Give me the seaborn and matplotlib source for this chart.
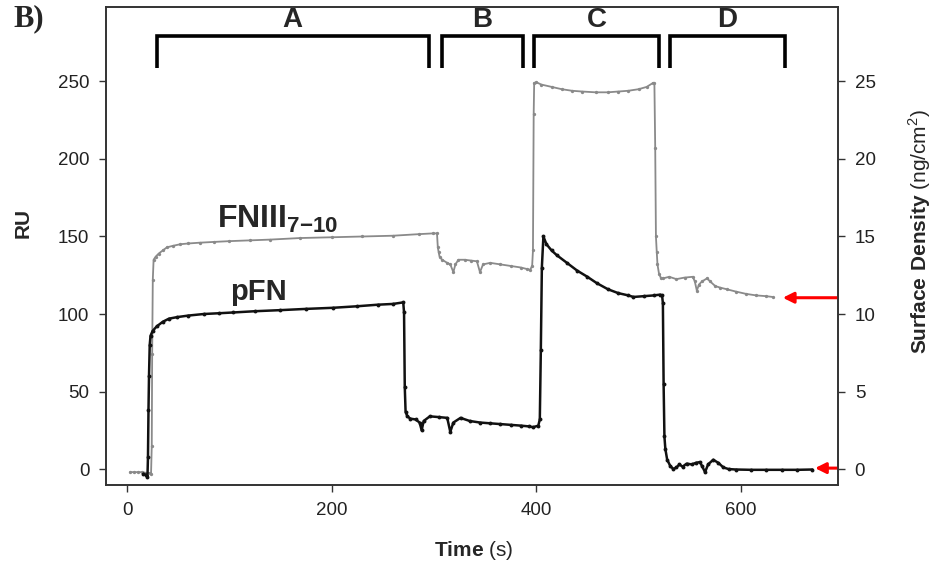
import matplotlib
matplotlib.use("Agg")
import matplotlib.pyplot as plt
import seaborn as sns

sns.set_theme()
sns.set_style("ticks")
plt.rcParams["font.family"] = ["Liberation Sans", "DejaVu Sans"]
plt.rcParams["mathtext.fontset"] = "custom"
plt.rcParams["mathtext.rm"] = "Liberation Sans"
plt.rcParams["mathtext.bf"] = "Liberation Sans:bold"

# FNIII 7-10 sensorgram (grey)
t_fn = [3, 7, 11, 15, 19, 22, 23.5, 24.2, 24.6, 25.2, 26, 28, 31, 35, 39, 45, 52,
        60, 71, 85, 100, 120, 140, 169, 200, 230, 260, 285, 299, 303, 303.8,
        304.6, 305.5, 308, 313, 316, 319, 321, 324, 330, 336, 342, 345, 348,
        355, 365, 375, 385, 391, 394, 396, 396.8, 397.5, 398, 400, 405, 415,
        425, 435, 445, 458, 470, 480, 490, 500, 508, 514, 515.5, 516.3, 517,
        517.8, 518.5, 520, 522, 524, 530, 537, 545, 553, 555, 557, 559, 562,
        567, 570, 575, 580, 586, 595, 605, 615, 625, 631]
ru_fn = [-2, -2, -2, -2, -2.5, -2.5, -3, 15, 74, 122, 135, 137, 139, 141, 143,
         144, 145, 145.5, 146, 146.5, 147, 147.5, 148, 149, 149.5, 150, 150.5,
         151.5, 152, 152, 143, 140, 137, 135, 133, 132, 127, 132, 135, 135,
         134.5, 134, 127, 132, 133, 132, 131, 130, 129, 128.5, 131, 141, 229,
         249, 249.5, 248, 246.5, 245, 244, 243.5, 243, 243, 243.5, 244, 245,
         246.5, 249, 249, 207, 150, 140, 132, 126, 123, 123, 124, 122.5, 123.5,
         124, 121, 115, 119, 121, 123, 121, 118, 117, 116, 114.5, 113, 112,
         111.5, 111]

# pFN sensorgram (black)
t_pfn = [16, 19, 20, 20.5, 21, 21.5, 22.2, 23, 25, 29, 35, 41, 49, 60, 75, 90,
         104, 125, 150, 175, 201, 225, 245, 260, 270, 270.8, 271.5, 272.3, 274,
         277, 282, 286, 288, 290, 296, 305, 313, 316, 319, 326, 335, 345, 355,
         365, 375, 385, 393, 397, 402, 403.5, 404.5, 405.5, 407, 410, 415, 420,
         430, 440, 450, 459, 470, 480, 490, 495, 505, 515, 521, 523, 523.8,
         524.5, 525.3, 526.2, 528, 531, 534, 537, 540, 543, 547, 552, 556, 560,
         562, 565, 568, 573, 578, 583, 588, 595, 610, 625, 640, 655, 670]
ru_pfn = [-3, -4, -5, 8, 38, 60, 80, 86, 89, 92, 95, 97, 98, 99, 100, 100.5,
          101, 101.8, 102.5, 103.3, 104, 105, 106, 106.5, 107.5, 101, 53, 37,
          34, 32.5, 32, 30, 25, 31, 34, 33.5, 33, 24, 30, 33, 31, 30, 29.5, 29,
          28.5, 28, 27.5, 27, 28, 32, 77, 130, 150, 145, 141, 138, 133, 128,
          124, 120, 116, 113.5, 112, 111, 111.5, 112, 112.5, 112, 107, 55, 21,
          13, 6, 2, 0, 1, 3, 1.5, 3.5, 3, 4, 4.5, 2, -2, 3, 6, 4, 1, 0, -0.3,
          -0.5, -0.5, -0.5, -0.5, -0.3]

# injection phases
phase_names = ["A", "B", "C", "D"]
phase_start = [29, 308, 398, 531]
phase_end = [295, 387, 520, 643]

# final levels marked by red arrows
arrow_tip = [641, 672.5]
arrow_level = [110.5, 0.6]

fig = plt.figure(figsize=(9.35, 5.68), dpi=100)
ax = fig.add_axes([0.1134, 0.1461, 0.7829, 0.8415])

sns.lineplot(x=t_fn, y=ru_fn, ax=ax, color="#8a8a8a", lw=1.3, marker="o",
             markersize=2.4, markeredgewidth=0, sort=False, estimator=None)
sns.lineplot(x=t_pfn, y=ru_pfn, ax=ax, color="#111111", lw=1.8, marker="o",
             markersize=2.8, markeredgewidth=0, sort=False, estimator=None)

ax.set_xlim(-20.5, 695)
ax.set_ylim(-10.3, 298)
ax.set_xticks([0, 200, 400, 600])
ax.set_yticks([0, 50, 100, 150, 200, 250])

ax2 = ax.twinx()
lo, hi = ax.get_ylim()
ax2.set_ylim(lo / 10, hi / 10)
ax2.set_yticks([0, 5, 10, 15, 20, 25])

for a in (ax, ax2):
    a.tick_params(direction="out", length=5, width=1, color="#333333",
                  labelsize=13.5, labelcolor="#222222", pad=7)
    for s in a.spines.values():
        s.set_color("#333333")
        s.set_linewidth(1.2)
        s.set_visible(True)

# phase brackets
for name, s, e in zip(phase_names, phase_start, phase_end):
    ax.plot([s, s, e, e], [259, 279, 279, 259], color="black", lw=2.6,
            solid_joinstyle="miter", solid_capstyle="butt")
    ax.text((s + e) / 2, 281, name, ha="center", va="bottom",
            fontsize=20, fontweight="bold")

ax.text(88, 156, r"$\mathbf{FNIII}_{\mathbf{7{-}10}}$", fontsize=23,
        va="baseline", ha="left")
ax.text(100.5, 109, "pFN", fontsize=21, fontweight="bold",
        va="baseline", ha="left")

for tip, lev in zip(arrow_tip, arrow_level):
    ax.annotate("", xy=(tip, lev), xytext=(694, lev),
                arrowprops=dict(arrowstyle="-|>", color="red", lw=2.2,
                                mutation_scale=16, shrinkA=0, shrinkB=0))

ax.set_xlabel(r"$\mathbf{Time}$ (s)", fontsize=15)
ax.xaxis.set_label_coords(0.503, -0.138)
ax.xaxis.label.set_verticalalignment("center")

ax.set_ylabel("RU", fontsize=15, fontweight="bold")
ax.yaxis.label.set_verticalalignment("center")
ax.yaxis.set_label_coords(-0.113, 0.548)

ax2.set_ylabel(r"$\mathbf{Surface\ Density}$ (ng/cm$^{2}$)", fontsize=15)
ax2.yaxis.label.set_verticalalignment("center")
ax2.yaxis.set_label_coords(1.112, 0.53)

fig.text(13 / 935, 1 - 4 / 568, "B)", family="Liberation Serif",
         fontweight="bold", fontsize=22, ha="left", va="top")

plt.savefig("out.png", dpi=100)
plt.clf()
